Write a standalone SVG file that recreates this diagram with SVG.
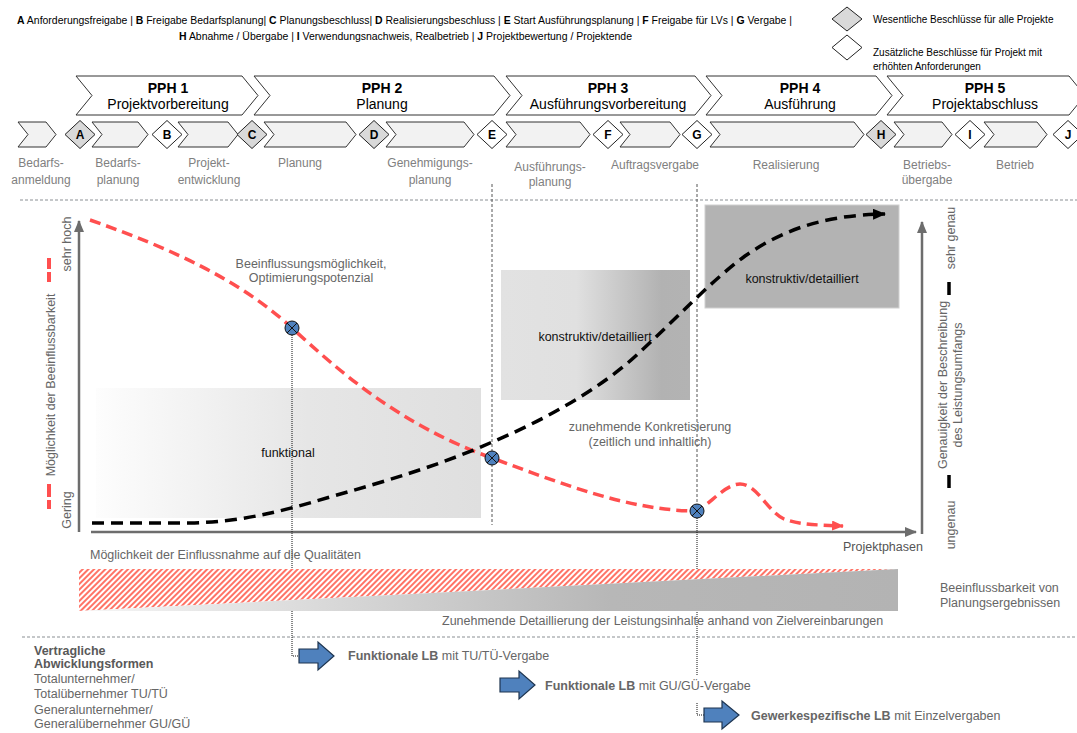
<svg xmlns="http://www.w3.org/2000/svg" width="1077" height="733" viewBox="0 0 1077 733">
<style>
text{font-family:"Liberation Sans",Arial,sans-serif;}
.leg{font-size:10px;fill:#000}
.b{font-weight:bold}
.ph{fill:#fff;stroke:#333;stroke-width:1}
.pht{font-size:14px;fill:#000;text-anchor:middle}
.sc{fill:#f2f2f2;stroke:#333;stroke-width:1}
.dg{fill:#d9d9d9;stroke:#222;stroke-width:1}
.dw{fill:#fff;stroke:#222;stroke-width:1}
.ml{font-size:12px;font-weight:bold;text-anchor:middle;fill:#000}
.lab{font-size:12px;fill:#808080;text-anchor:middle}
.ann{font-size:12.5px;fill:#666}
.annc{font-size:12.5px;fill:#666;text-anchor:middle}
.blkt{font-size:12.5px;fill:#111;text-anchor:middle}
.sep{stroke:#8a8f93;stroke-width:1;stroke-dasharray:3 2;fill:none}
.vd{stroke:#555;stroke-width:1;stroke-dasharray:3 2;fill:none}
.dot{stroke:#111;stroke-width:1;stroke-dasharray:1 1;fill:none}
.axis{stroke:#6d6d6d;stroke-width:2.5;fill:none}
.red{stroke:#ff4f4f;stroke-width:3.5;stroke-dasharray:11 6;fill:none}
.blk{stroke:#000;stroke-width:3.5;stroke-dasharray:12 7;fill:none}
.circ{fill:#4f81bd;stroke:#111;stroke-width:1}
.cx{stroke:#111;stroke-width:1}
.barr{fill:#4f81bd;stroke:#1e3550;stroke-width:1.2}
.rt{font-size:12.5px;fill:#666;text-anchor:middle}
</style>
<defs>
<marker id="mg" markerUnits="userSpaceOnUse" markerWidth="12" markerHeight="10" refX="11" refY="5" orient="auto"><path d="M0,0 L12,5 L0,10 Z" fill="#6d6d6d"/></marker>
<marker id="mb" markerUnits="userSpaceOnUse" markerWidth="13" markerHeight="11" refX="12" refY="5.5" orient="auto"><path d="M0,0 L13,5.5 L0,11 Z" fill="#000"/></marker>
<marker id="mr" markerUnits="userSpaceOnUse" markerWidth="12" markerHeight="10" refX="11" refY="5" orient="auto"><path d="M0,0 L12,5 L0,10 Z" fill="#ff4f4f"/></marker>
<pattern id="hatch" width="4" height="4" patternUnits="userSpaceOnUse" patternTransform="rotate(45)"><rect width="4" height="4" fill="#fff"/><line x1="1" y1="0" x2="1" y2="4" stroke="#ff5040" stroke-width="1.6"/></pattern>
<linearGradient id="g1" x1="0" y1="0" x2="1" y2="0"><stop offset="0" stop-color="#fdfdfd"/><stop offset="0.55" stop-color="#e6e6e6"/><stop offset="1" stop-color="#dfdfdf"/></linearGradient>
<linearGradient id="g2" x1="0" y1="0" x2="1" y2="0"><stop offset="0" stop-color="#e2e2e2"/><stop offset="0.4" stop-color="#e0e0e0"/><stop offset="0.85" stop-color="#b2b2b2"/><stop offset="1" stop-color="#b3b3b3"/></linearGradient>
<linearGradient id="g3" x1="0" y1="0" x2="1" y2="0"><stop offset="0" stop-color="#f6f6f6"/><stop offset="0.65" stop-color="#b7b7b7"/><stop offset="1" stop-color="#b3b3b3"/></linearGradient>
</defs>

<g id="legend-text">
<text class="leg" x="17" y="24" textLength="775" lengthAdjust="spacingAndGlyphs"><tspan class="b">A</tspan> Anforderungsfreigabe | <tspan class="b">B</tspan>  Freigabe Bedarfsplanung| <tspan class="b">C</tspan>  Planungsbeschluss| <tspan class="b">D</tspan>  Realisierungsbeschluss | <tspan class="b">E</tspan>  Start Ausführungsplanung | <tspan class="b">F</tspan>  Freigabe für LVs | <tspan class="b">G</tspan> Vergabe |</text>
<text class="leg" x="179" y="40" textLength="453" lengthAdjust="spacingAndGlyphs"><tspan class="b">H</tspan>  Abnahme / Übergabe | <tspan class="b">I</tspan>  Verwendungsnachweis, Realbetrieb | <tspan class="b">J</tspan>  Projektbewertung / Projektende</text>
</g>
<g id="legend-diamonds">
<path class="dg" d="M832,19 L847,7 L862,19 L847,31 Z"/>
<text class="leg" x="873" y="23">Wesentliche Beschlüsse für alle Projekte</text>
<path class="dw" d="M832,47.5 L847,35 L862,47.5 L847,60 Z"/>
<text class="leg" x="873" y="55.5">Zusätzliche Beschlüsse für Projekt mit</text>
<text class="leg" x="873" y="70">erhöhten Anforderungen</text>
</g>

<g id="pph1"><path class="ph" d="M76,76 L242,76 L258,95.5 L242,115 L76,115 L92,95.5 Z"/><text class="pht b" x="168" y="93">PPH 1</text><text class="pht" x="168" y="109">Projektvorbereitung</text></g>
<g id="pph2"><path class="ph" d="M254,76 L494,76 L510,95.5 L494,115 L254,115 L270,95.5 Z"/><text class="pht b" x="382" y="93">PPH 2</text><text class="pht" x="382" y="109">Planung</text></g>
<g id="pph3"><path class="ph" d="M506,76 L695,76 L711,95.5 L695,115 L506,115 L522,95.5 Z"/><text class="pht b" x="608" y="93">PPH 3</text><text class="pht" x="608" y="109">Ausführungsvorbereitung</text></g>
<g id="pph4"><path class="ph" d="M706,76 L876,76 L892,95.5 L876,115 L706,115 L722,95.5 Z"/><text class="pht b" x="800" y="93">PPH 4</text><text class="pht" x="800" y="109">Ausführung</text></g>
<g id="pph5"><path class="ph" d="M887,76 L1069,76 L1085,95.5 L1069,115 L887,115 L903,95.5 Z"/><text class="pht b" x="985" y="93">PPH 5</text><text class="pht" x="985" y="109">Projektabschluss</text></g>

<g id="steps">
<path class="sc" d="M18,122 L46,122 L56,134.5 L46,147 L18,147 L28,134.5 Z"/>
<path class="sc" d="M92,122 L138,122 L148,134.5 L138,147 L92,147 L102,134.5 Z"/>
<path class="sc" d="M178,122 L228,122 L238,134.5 L228,147 L178,147 L188,134.5 Z"/>
<path class="sc" d="M264,122 L346,122 L356,134.5 L346,147 L264,147 L274,134.5 Z"/>
<path class="sc" d="M386,122 L464,122 L474,134.5 L464,147 L386,147 L396,134.5 Z"/>
<path class="sc" d="M506,122 L580,122 L590,134.5 L580,147 L506,147 L516,134.5 Z"/>
<path class="sc" d="M620,122 L670,122 L680,134.5 L670,147 L620,147 L630,134.5 Z"/>
<path class="sc" d="M710,122 L854,122 L864,134.5 L854,147 L710,147 L720,134.5 Z"/>
<path class="sc" d="M894,122 L942,122 L952,134.5 L942,147 L894,147 L904,134.5 Z"/>
<path class="sc" d="M984,122 L1037,122 L1047,134.5 L1037,147 L984,147 L994,134.5 Z"/>
</g>
<g id="milestone-A"><path class="dg" d="M65,134.5 L80,120.5 L95,134.5 L80,148.5 Z"/><text class="ml" x="80" y="139">A</text></g>
<g id="milestone-B"><path class="dw" d="M152,134.5 L167,120.5 L182,134.5 L167,148.5 Z"/><text class="ml" x="167" y="139">B</text></g>
<g id="milestone-C"><path class="dg" d="M237,134.5 L252,120.5 L267,134.5 L252,148.5 Z"/><text class="ml" x="252" y="139">C</text></g>
<g id="milestone-D"><path class="dg" d="M359,134.5 L374,120.5 L389,134.5 L374,148.5 Z"/><text class="ml" x="374" y="139">D</text></g>
<g id="milestone-E"><path class="dw" d="M477,134.5 L492,120.5 L507,134.5 L492,148.5 Z"/><text class="ml" x="492" y="139">E</text></g>
<g id="milestone-F"><path class="dw" d="M593,134.5 L608,120.5 L623,134.5 L608,148.5 Z"/><text class="ml" x="608" y="139">F</text></g>
<g id="milestone-G"><path class="dw" d="M682,134.5 L697,120.5 L712,134.5 L697,148.5 Z"/><text class="ml" x="697" y="139">G</text></g>
<g id="milestone-H"><path class="dg" d="M866,134.5 L881,120.5 L896,134.5 L881,148.5 Z"/><text class="ml" x="881" y="139">H</text></g>
<g id="milestone-I"><path class="dw" d="M955,134.5 L970,120.5 L985,134.5 L970,148.5 Z"/><text class="ml" x="970" y="139">I</text></g>
<g id="milestone-J"><path class="dw" d="M1053,134.5 L1068,120.5 L1083,134.5 L1068,148.5 Z"/><text class="ml" x="1068" y="139">J</text></g>

<g id="step-labels">
<text class="lab" x="41" y="167">Bedarfs-</text><text class="lab" x="41" y="184">anmeldung</text>
<text class="lab" x="118" y="167">Bedarfs-</text><text class="lab" x="118" y="184">planung</text>
<text class="lab" x="209" y="167">Projekt-</text><text class="lab" x="209" y="184">entwicklung</text>
<text class="lab" x="300" y="167">Planung</text>
<text class="lab" x="430" y="167">Genehmigungs-</text><text class="lab" x="430" y="184">planung</text>
<text class="lab" x="550" y="171">Ausführungs-</text><text class="lab" x="550" y="186">planung</text>
<text class="lab" x="655" y="169">Auftragsvergabe</text>
<text class="lab" x="786" y="169">Realisierung</text>
<text class="lab" x="927" y="169">Betriebs-</text><text class="lab" x="927" y="184">übergabe</text>
<text class="lab" x="1015" y="169">Betrieb</text>
</g>

<g id="separators">
<line class="sep" x1="20" y1="200" x2="1077" y2="200"/>
<line class="sep" x1="22" y1="637" x2="1077" y2="637"/>
</g>

<g id="boxes">
<rect x="96" y="388" width="385" height="130" fill="url(#g1)"/>
<rect x="501" y="270" width="189" height="130" fill="url(#g2)"/>
<rect x="705" y="205" width="194" height="103" fill="#b3b3b3" stroke="#d0d0d0" stroke-width="1"/>
<text class="blkt" x="288" y="457">funktional</text>
<text class="blkt" x="595" y="341">konstruktiv/detailliert</text>
<text class="blkt" x="802" y="283">konstruktiv/detailliert</text>
</g>

<g id="axes">
<line class="axis" x1="79" y1="532" x2="79" y2="221" marker-end="url(#mg)"/>
<line class="axis" x1="91" y1="532" x2="916" y2="532" marker-end="url(#mg)"/>
<line class="axis" x1="922" y1="534" x2="922" y2="222" marker-end="url(#mg)"/>
<text class="rt" transform="translate(70.5,244) rotate(-90)">sehr hoch</text>
<text class="rt" transform="translate(54.5,385) rotate(-90)">Möglichkeit der Beeinflussbarkeit</text>
<text class="rt" transform="translate(70.5,510) rotate(-90)">Gering</text>
<text class="rt" transform="translate(954.5,238) rotate(-90)">sehr genau</text>
<text class="rt" transform="translate(946.5,385) rotate(-90)">Genauigkeit der Beschreibung</text>
<text class="rt" transform="translate(961.5,385) rotate(-90)">des Leistungsumfangs</text>
<text class="rt" transform="translate(954.5,525) rotate(-90)">ungenau</text>
<g stroke="#ff4f4f" stroke-width="4"><line x1="49" y1="258" x2="49" y2="269"/><line x1="49" y1="272" x2="49" y2="282"/><line x1="49" y1="484" x2="49" y2="497"/><line x1="49" y1="500" x2="49" y2="509"/></g>
<g stroke="#000" stroke-width="3.5"><line x1="949" y1="282" x2="949" y2="295"/><line x1="949" y1="475" x2="949" y2="488"/></g>
<text x="843" y="551" style="font-size:12.5px;fill:#555">Projektphasen</text>
</g>

<g id="connectors">
<line class="vd" x1="492" y1="184" x2="492" y2="525"/>
<line class="vd" x1="697" y1="184" x2="697" y2="504"/>
<path class="dot" d="M697,518 V675 M697,703 V715 H704"/>
<path class="dot" d="M292,335 V656 H299"/>
</g>

<g id="curves">
<path class="red" d="M90,220 C170,248 240,280 292,328 C340,372 400,425 492,458 C560,483 630,511 697,511 C712,502 726,484 740,484 C757,484 768,512 784,519 C800,525 820,525 843,526" marker-end="url(#mr)"/>
<path class="blk" d="M92,523 L190,523 C240,522 280,512 330,497 C390,480 440,465 490,443 C540,422 600,390 640,352 C680,315 710,282 745,256 C780,232 820,215 885,214" marker-end="url(#mb)"/>
</g>

<g id="annotations">
<text class="annc" x="311" y="268">Beeinflussungsmöglichkeit,</text>
<text class="annc" x="311" y="282">Optimierungspotenzial</text>
<text class="annc" x="650" y="431">zunehmende Konkretisierung</text>
<text class="annc" x="650" y="446">(zeitlich und inhaltlich)</text>
</g>

<g id="points">
<circle class="circ" cx="292" cy="328" r="7"/><path class="cx" d="M287,323 L297,333 M297,323 L287,333"/>
<circle class="circ" cx="492" cy="458" r="7"/><path class="cx" d="M487,453 L497,463 M497,453 L487,463"/>
<circle class="circ" cx="697" cy="511" r="7"/><path class="cx" d="M692,506 L702,516 M702,506 L692,516"/>
</g>

<g id="band">
<text class="ann" x="90" y="559">Möglichkeit der Einflussnahme auf die Qualitäten</text>
<polygon points="79,569 898,569 79,611" fill="url(#hatch)"/>
<polygon points="79,611 898,569 898,611" fill="url(#g3)"/>
<text class="ann" x="442" y="625">Zunehmende Detaillierung der Leistungsinhalte anhand von Zielvereinbarungen</text>
<text class="ann" x="940" y="592">Beeinflussbarkeit von</text>
<text class="ann" x="940" y="607">Planungsergebnissen</text>
</g>

<g id="contracts">
<text x="34" y="655" style="font-size:12.5px;font-weight:bold;fill:#595959">Vertragliche</text>
<text x="34" y="668" style="font-size:12.5px;font-weight:bold;fill:#595959">Abwicklungsformen</text>
<text class="ann" x="34" y="683">Totalunternehmer/</text>
<text class="ann" x="34" y="698">Totalübernehmer TU/TÜ</text>
<text class="ann" x="34" y="714">Generalunternehmer/</text>
<text class="ann" x="34" y="728">Generalübernehmer GU/GÜ</text>
</g>

<g id="arrow-1"><path class="barr" d="M299,649 H318 V642 L334,656 L318,670 V663 H299 Z"/><text class="ann" x="348" y="660"><tspan class="b">Funktionale LB</tspan> mit TU/TÜ-Vergabe</text></g>
<g id="arrow-2"><path class="barr" d="M500,678 H519 V671 L535,685 L519,699 V692 H500 Z"/><text class="ann" x="545" y="690"><tspan class="b">Funktionale LB</tspan> mit GU/GÜ-Vergabe</text></g>
<g id="arrow-3"><path class="barr" d="M704,708 H722 V701 L739,715 L722,729 V722 H704 Z"/><text class="ann" x="751" y="720"><tspan class="b">Gewerkespezifische LB</tspan> mit Einzelvergaben</text></g>
</svg>
